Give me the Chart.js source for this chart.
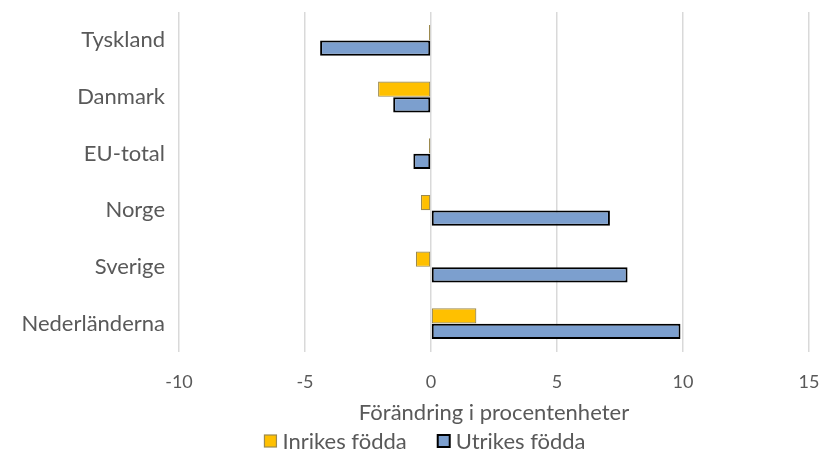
<!DOCTYPE html>
<html lang="sv">
<head>
<meta charset="UTF-8" />
<title>Förändring i procentenheter</title>
<script src="https://cdn.jsdelivr.net/npm/chart.js@4/dist/chart.umd.min.js"></script>
<style>
  html, body { margin: 0; padding: 0; background: #fff; }
  #wrap { width: 823px; height: 456px; }
</style>
</head>
<body>
<div id="wrap"><canvas id="myChart" width="823" height="456"></canvas></div>
<script>
const countries = ["Tyskland", "Danmark", "EU-total", "Norge", "Sverige", "Nederländerna"];
const inrikes = [-0.08, -2.1, -0.08, -0.4, -0.6, 1.8];
const utrikes = [-4.4, -1.5, -0.7, 7.1, 7.8, 9.9];
const xTicks = [-10, -5, 0, 5, 10, 15];

const font = "Lato, 'Open Sans', sans-serif";
const textColor = "#595959";

// legend drawn by hand so the spacing matches the original
const bottomLegend = {
  id: "bottomLegend",
  afterDraw(chart) {
    const ctx = chart.ctx;
    const sets = chart.data.datasets;
    const box = 12, gap = 6, itemGap = 31;
    ctx.save();
    ctx.font = "22px " + font;
    ctx.textBaseline = "middle";
    const widths = sets.map((ds) => box + gap + ctx.measureText(ds.label).width);
    const total = widths.reduce((a, b) => a + b, 0) + itemGap * (sets.length - 1);
    let x = 425 - total / 2;
    const y = 441;
    sets.forEach((ds, i) => {
      ctx.fillStyle = ds.backgroundColor;
      ctx.fillRect(x, y - box / 2, box, box);
      ctx.strokeStyle = ds.borderColor;
      ctx.lineWidth = ds.borderWidth;
      ctx.strokeRect(x, y - box / 2, box, box);
      ctx.fillStyle = textColor;
      ctx.fillText(ds.label, x + box + gap, y + 1);
      x += widths[i] + itemGap;
    });
    ctx.restore();
  },
};

new Chart(document.getElementById("myChart"), {
  type: "bar",
  data: {
    labels: countries,
    datasets: [
      {
        label: "Inrikes födda",
        data: inrikes,
        backgroundColor: "#FFC000",
        borderColor: "#9c8a4e",
        borderWidth: 1.2,
        borderSkipped: false,
      },
      {
        label: "Utrikes födda",
        data: utrikes,
        backgroundColor: "#7C9FCE",
        borderColor: "#000000",
        borderWidth: 2,
        borderSkipped: false,
      },
    ],
  },
  plugins: [bottomLegend],
  options: {
    indexAxis: "y",
    responsive: false,
    animation: false,
    layout: { padding: { top: 12, right: 14, left: 0, bottom: 30 } },
    datasets: { bar: { categoryPercentage: 0.55, barPercentage: 0.98 } },
    scales: {
      x: {
        min: -10,
        max: 15,
        afterBuildTicks: (axis) => { axis.ticks = xTicks.map((v) => ({ value: v })); },
        grid: { color: "#d9d9d9", lineWidth: 1.5, drawTicks: false },
        border: { display: false },
        ticks: { color: textColor, font: { family: font, size: 18 }, padding: 19 },
        title: {
          display: true,
          text: "Förändring i procentenheter",
          color: textColor,
          font: { family: font, size: 22 },
          padding: { top: 0, bottom: 0 },
        },
        afterFit: (axis) => {
          axis.height = 74;
          axis.paddingLeft = 0;
          axis.paddingRight = 0;
        },
      },
      y: {
        grid: { display: false, drawTicks: false },
        border: { display: false },
        ticks: { color: textColor, font: { family: font, size: 22 }, padding: 14 },
        afterFit: (axis) => {
          axis.width = 179;
          axis.paddingTop = 0;
          axis.paddingBottom = 0;
        },
      },
    },
    plugins: {
      legend: { display: false },
      tooltip: { enabled: false },
    },
  },
});
</script>
</body>
</html>
